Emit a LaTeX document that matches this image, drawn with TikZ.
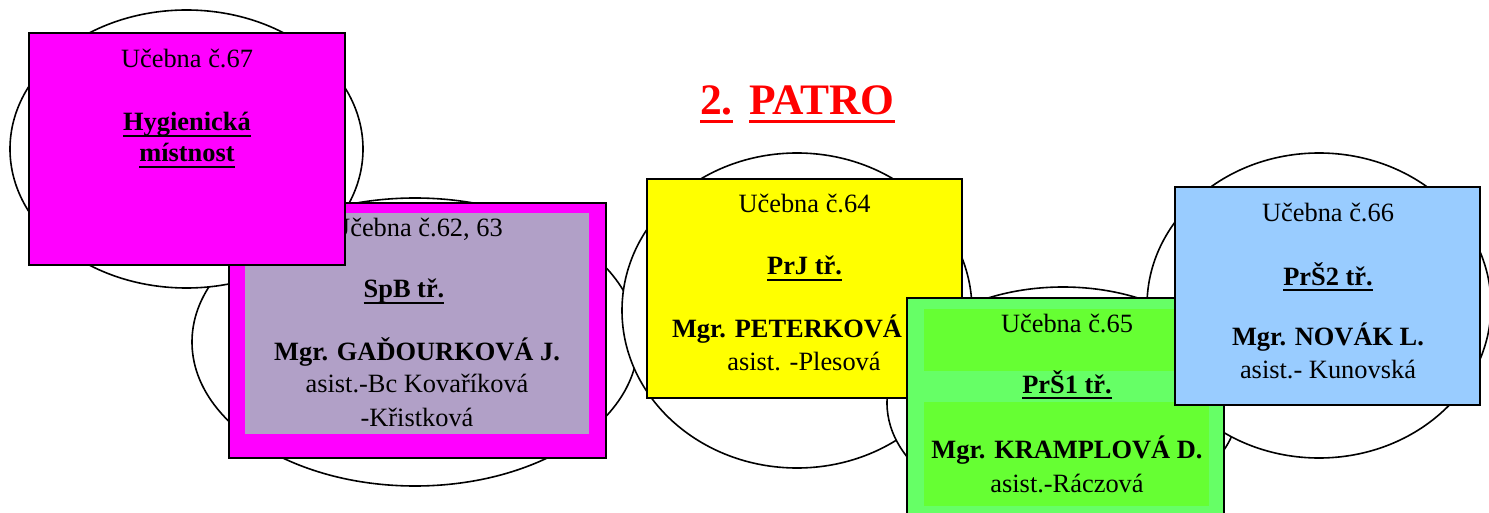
\documentclass[tikz,border=0pt]{standalone}
\usepackage{fontspec}
\setmainfont{Liberation Serif}
\usetikzlibrary{shapes.geometric}
\definecolor{mag}{HTML}{FF00FF}
\definecolor{lav}{HTML}{B1A0C7}
\definecolor{yel}{HTML}{FFFF00}
\definecolor{grnout}{HTML}{66FF66}
\definecolor{grnin}{HTML}{66FF33}
\definecolor{blu}{HTML}{99CCFF}
\definecolor{titlered}{HTML}{FF0000}
\newcommand\boxfont{\fontsize{26.4}{32}\selectfont}
\newcommand\myul[1]{\sbox0{#1}\rlap{\rule[-6pt]{\wd0}{2pt}}\usebox0}
\newcommand\titleul[1]{\sbox0{#1}\rlap{\rule[-8.5pt]{\wd0}{3pt}}\usebox0}
\tikzset{
  oval/.style={ellipse, draw=black, line width=1.6pt, fill=white, inner sep=0pt, outer sep=0pt},
  room/.style={rectangle, draw=black, line width=1.7pt, inner sep=0pt, outer sep=0pt},
  band/.style={rectangle, draw=none, inner sep=0pt, outer sep=0pt},
  txt/.style={anchor=base, inner sep=0pt, outer sep=0pt, font=\boxfont},
  btxt/.style={txt, font=\boxfont\bfseries},
  ttl/.style={anchor=base west, inner sep=0pt, outer sep=0pt, text=titlered, font=\fontsize{43.5}{48}\selectfont\bfseries}
}
\begin{document}
\begin{tikzpicture}[x=1pt, y=-1pt]
\path[use as bounding box, clip] (0,0) rectangle (1489,513);
\fill[white] (0,0) rectangle (1489,513);
% ovals
\node[oval, minimum width=446pt, minimum height=288pt] (e62) at (415,342) {};
\node[oval, minimum width=353pt, minimum height=278pt] (e67) at (186.5,149) {};
\node[oval, minimum width=350pt, minimum height=315pt] (e64) at (797,310.5) {};
\node[oval, minimum width=352pt, minimum height=232pt] (e65) at (1063,403) {};
\node[oval, minimum width=344pt, minimum height=305pt] (e66) at (1319,305.5) {};
% title
\node[ttl] (t2) at (700,115) {\titleul{2.}};
\node[ttl] (tpatro) at (749,115) {\titleul{PATRO}};
% room 62, 63
\node[room, fill=mag, minimum width=377pt, minimum height=255pt] (b62) at (417.5,330.5) {};
\node[band, fill=lav, minimum width=344pt, minimum height=221pt] (b62in) at (417,323.5) {};
\node[txt] (b62a) at (417,237) {Učebna č.62, 63};
\node[btxt] (b62b) at (404,298) {\myul{SpB tř.}};
\node[btxt] (b62c) at (417,360) {Mgr. GAĎOURKOVÁ J.};
\node[txt] (b62d) at (417,392) {asist.-Bc Kovaříková};
\node[txt] (b62e) at (417,426) {-Křistková};
% room 67
\node[room, fill=mag, minimum width=316pt, minimum height=232pt] (b67) at (187,149) {};
\node[txt] (b67a) at (187,68) {Učebna č.67};
\node[btxt] (b67b) at (187,131) {\myul{Hygienická}};
\node[btxt] (b67c) at (187,162) {\myul{místnost}};
% room 64
\node[room, fill=yel, minimum width=315pt, minimum height=219pt] (b64) at (804.5,288.5) {};
\node[txt] (b64a) at (804.5,213) {Učebna č.64};
\node[btxt] (b64b) at (804.5,275) {\myul{PrJ tř.}};
\node[btxt, anchor=base west] (b64c) at (672,337) {Mgr. PETERKOVÁ};
\node[txt] (b64d) at (804,370) {asist. -Plesová};
% room 65
\node[room, fill=grnout, minimum width=317pt, minimum height=242pt] (b65) at (1065.5,419) {};
\node[band, fill=grnin, minimum width=285pt, minimum height=62pt] (b65top) at (1066.5,340) {};
\node[band, fill=grnin, minimum width=285pt, minimum height=104pt] (b65bot) at (1066.5,454) {};
\node[txt] (b65a) at (1067,332) {Učebna č.65};
\node[btxt] (b65b) at (1067,393) {\myul{PrŠ1 tř.}};
\node[btxt] (b65c) at (1067,458) {Mgr. KRAMPLOVÁ D.};
\node[txt] (b65d) at (1067,492) {asist.-Ráczová};
% room 66
\node[room, fill=blu, minimum width=305pt, minimum height=218pt] (b66) at (1327.5,296) {};
\node[txt] (b66a) at (1328,222) {Učebna č.66};
\node[btxt] (b66b) at (1328,285) {\myul{PrŠ2 tř.}};
\node[btxt] (b66c) at (1328,345) {Mgr. NOVÁK L.};
\node[txt] (b66d) at (1328,378) {asist.- Kunovská};
\end{tikzpicture}
\end{document}
